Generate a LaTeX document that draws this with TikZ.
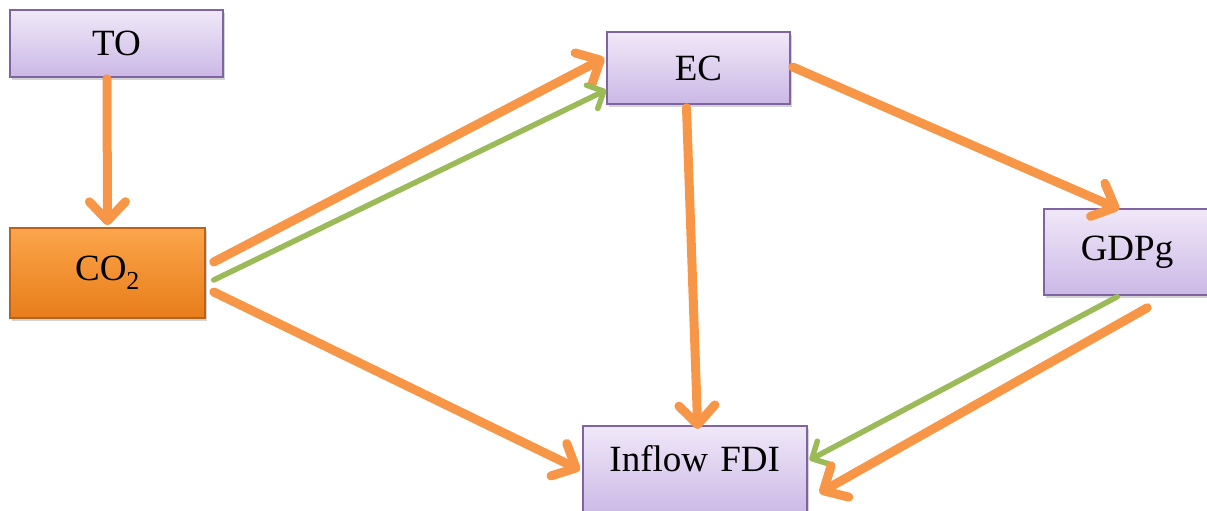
\documentclass[tikz,border=0pt]{standalone}
\usepackage{fontspec}
\setmainfont{Liberation Serif}
\usetikzlibrary{arrows.meta,shadows}
\definecolor{arrO}{HTML}{F79646}
\definecolor{arrG}{HTML}{9BBB59}
\definecolor{boxTop}{HTML}{F0E8F8}
\definecolor{boxBot}{HTML}{CBB8E6}
\definecolor{boxLine}{HTML}{8064A2}
\definecolor{coTop}{HTML}{FBA54A}
\definecolor{coBot}{HTML}{E87D1A}
\definecolor{coLine}{HTML}{B8621C}
\tikzset{
  vbox/.style={draw=boxLine, line width=1.5pt, top color=boxTop, bottom color=boxBot,
    font=\fontsize{37}{40}\selectfont, inner sep=0pt,
    drop shadow={shadow xshift=2pt, shadow yshift=-3pt, opacity=0.35}},
  obox/.style={draw=coLine, line width=1.5pt, top color=coTop, bottom color=coBot,
    font=\fontsize{37}{40}\selectfont, inner sep=0pt,
    drop shadow={shadow xshift=2pt, shadow yshift=-3pt, opacity=0.35}},
  oarrow/.style={draw=arrO, line width=9pt, line cap=round,
    -{Straight Barb[length=19pt, width=36pt, round]}},
  garrow/.style={draw=arrG, line width=5.5pt, line cap=round,
    -{Straight Barb[length=13pt, width=26pt, round]}},
}
\begin{document}
\begin{tikzpicture}[x=1pt,y=-1pt]
\useasboundingbox (0,0) rectangle (1207,511);
\node[vbox, minimum width=213pt, minimum height=67pt] (to) at (116.5,43.5) {TO};
\node[obox, minimum width=195pt, minimum height=90pt] (co2) at (107.5,273) {CO\textsubscript{2}};
\node[vbox, minimum width=183pt, minimum height=72pt] (ec) at (698.5,68) {EC};
\node[vbox, minimum width=166pt, minimum height=86pt] (gdp) at (1127,252) {GDPg};
\node[vbox, anchor=north west, minimum width=224pt, text width=224pt, align=center,
  text height=46pt, text depth=44pt] (fdi) at (582,425) {Inflow FDI};
\draw[oarrow] ([shift={(-9.5,1)}]to.south) -- ([shift={(0,-2)}]co2.north);
\draw[oarrow] ([shift={(8,-11)}]co2.east) -- ([shift={(-2,-10)}]ec.west);
\draw[garrow] ([shift={(8,7)}]co2.east) -- ([shift={(0,22)}]ec.west);
\draw[oarrow] ([shift={(8,19)}]co2.east) -- ([shift={(-2,45)}]fdi.north west);
\draw[oarrow] ([shift={(-12,3)}]ec.south) -- ([shift={(3,4)}]fdi.north);
\draw[oarrow] ([shift={(2,-1)}]ec.east) -- ([shift={(76,1)}]gdp.north west);
\draw[garrow] ([shift={(74,1)}]gdp.south west) -- ([shift={(2,35)}]fdi.north east);
\draw[oarrow] ([shift={(104,12)}]gdp.south west) -- ([shift={(12,68)}]fdi.north east);
\end{tikzpicture}
\end{document}
